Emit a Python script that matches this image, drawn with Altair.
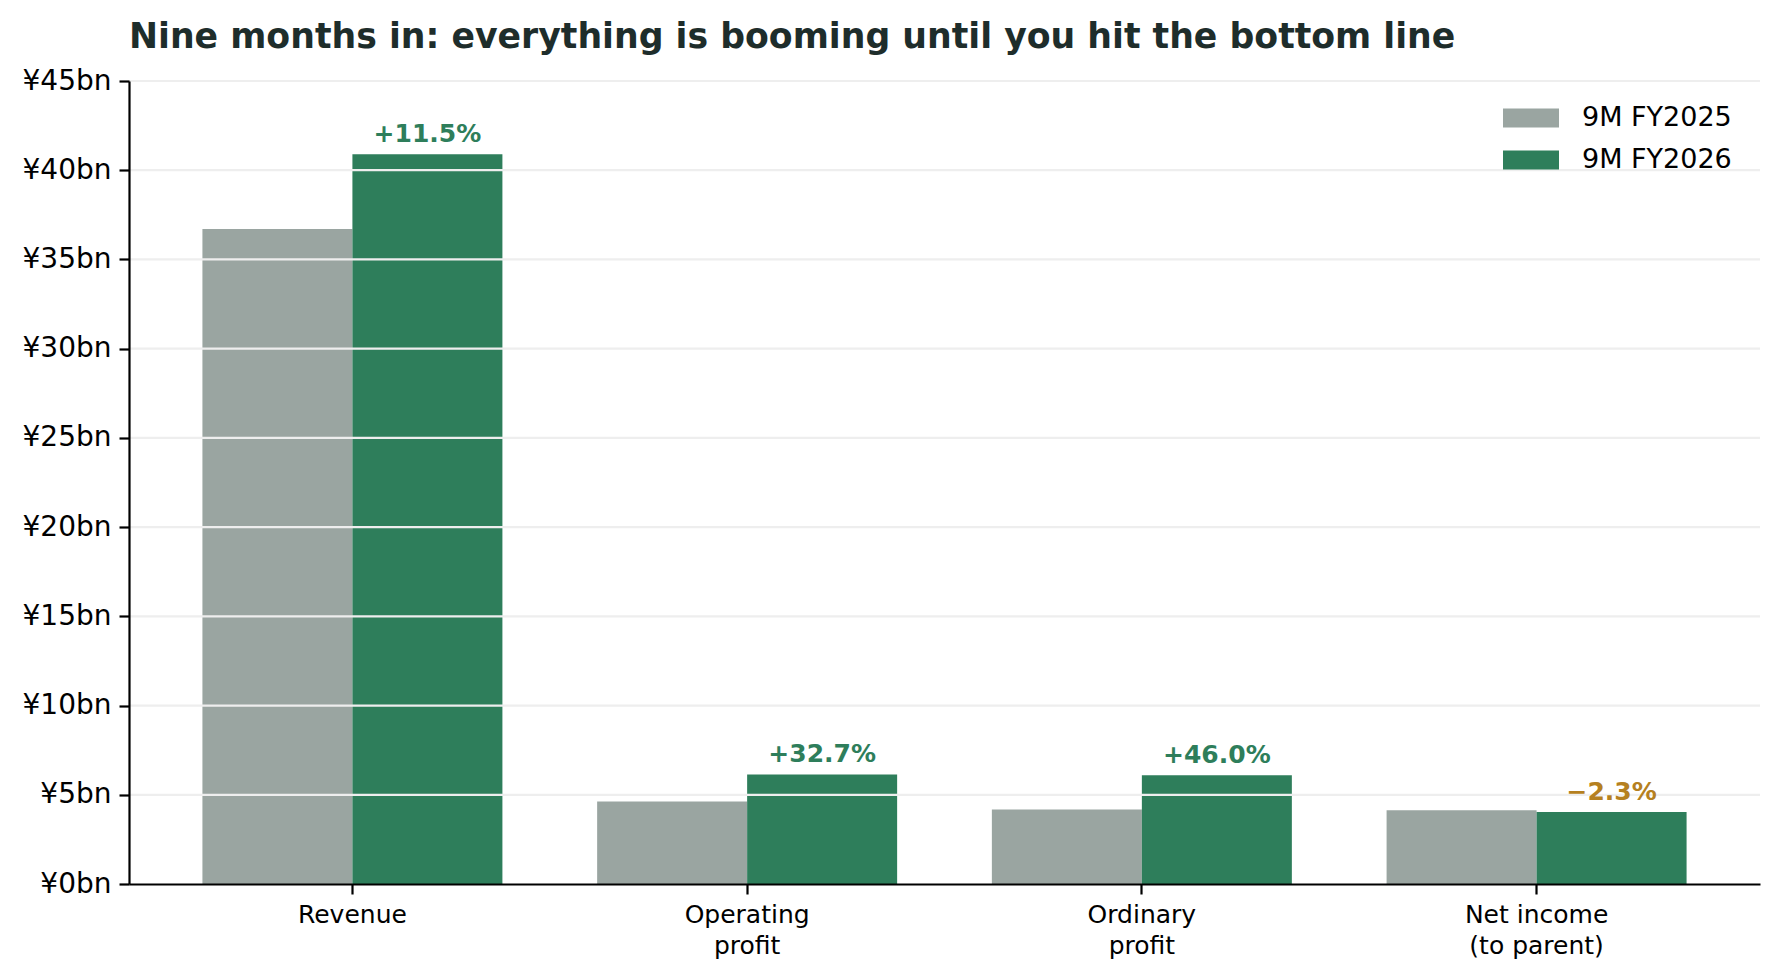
import altair as alt
import pandas as pd

# Nine-month results, ¥bn
categories = ["Revenue", "Operating\nprofit", "Ordinary\nprofit", "Net income\n(to parent)"]
periods = ["9M FY2025", "9M FY2026"]
fy2025 = [36.7, 4.63, 4.18, 4.13]
fy2026 = [40.9, 6.14, 6.10, 4.04]
changes = ["+11.5%", "+32.7%", "+46.0%", "\u22122.3%"]
y_ticks = [0, 5, 10, 15, 20, 25, 30, 35, 40, 45]

GREY = "#9aa5a1"
GREEN = "#2e7e5b"
AMBER = "#b58020"
FONT = "DejaVu Sans"

bars_df = pd.DataFrame({
    "metric": categories * 2,
    "period": [periods[0]] * len(categories) + [periods[1]] * len(categories),
    "value": fy2025 + fy2026,
})
labels_df = pd.DataFrame({
    "metric": categories,
    "period": [periods[1]] * len(categories),
    "value": fy2026,
    "change": changes,
    "up": [c.startswith("+") for c in changes],
})
grid_df = pd.DataFrame({"value": y_ticks[1:]})

x = alt.X(
    "metric:N", sort=categories,
    scale=alt.Scale(paddingInner=0.24, paddingOuter=0.186),
    axis=alt.Axis(
        title=None, labelAngle=0, labelExpr="split(datum.label, '\\n')",
        labelFontSize=25, labelFont=FONT, labelColor="black",
        labelLineHeight=31, labelPadding=8,
        domainColor="black", domainWidth=2.2,
        tickColor="black", tickWidth=2.2, tickSize=10, grid=False, zindex=1,
    ),
)
x_off = alt.XOffset("period:N", sort=periods,
                    scale=alt.Scale(domain=periods, paddingInner=0, paddingOuter=0))
y = alt.Y(
    "value:Q",
    scale=alt.Scale(domain=[0, 45], nice=False),
    axis=alt.Axis(
        title=None, values=y_ticks, labelExpr="'¥' + datum.value + 'bn'",
        labelFontSize=28, labelFont=FONT, labelColor="black", labelPadding=8,
        domainColor="black", domainWidth=2.2,
        tickColor="black", tickWidth=2.2, tickSize=10, grid=False, zindex=1,
    ),
)

bars = alt.Chart(bars_df).mark_bar().encode(
    x=x, xOffset=x_off, y=y,
    color=alt.Color(
        "period:N",
        scale=alt.Scale(domain=periods, range=[GREY, GREEN]),
        legend=alt.Legend(
            title=None, orient="none", legendX=1374, legendY=9,
            labelFontSize=27, labelFont=FONT, labelColor="black",
            symbolType="M-1,-0.34H1V0.34H-1Z", symbolSize=3136,
            symbolStrokeWidth=0, symbolOpacity=1, labelOffset=23, rowPadding=1,
        ),
    ),
)

# gridlines sit over the bars but under the change labels
grid = alt.Chart(grid_df).mark_rule(color="#eeeeee", strokeWidth=2.2).encode(y="value:Q")

text = alt.Chart(labels_df).mark_text(
    font=FONT, fontSize=25, fontWeight="bold", baseline="alphabetic", dy=-12,
).encode(
    x=x, xOffset=x_off, y=y, text="change:N",
    color=alt.condition("datum.up", alt.value(GREEN), alt.value(AMBER)),
)

chart = (
    alt.layer(bars, grid, text)
    .properties(
        width=1631, height=803,
        autosize=alt.AutoSizeParams(type="none"),
        padding={"left": 121, "top": 73, "right": 11, "bottom": 80},
        title=alt.TitleParams(
            "Nine months in: everything is booming until you hit the bottom line",
            anchor="start", frame="group", font=FONT, fontSize=34.7,
            fontWeight="bold", color="#1e2d2b", offset=11,
        ),
    )
    .configure_view(stroke=None)
)

chart.save("out.html", embed_options={"renderer": "svg", "actions": False})
